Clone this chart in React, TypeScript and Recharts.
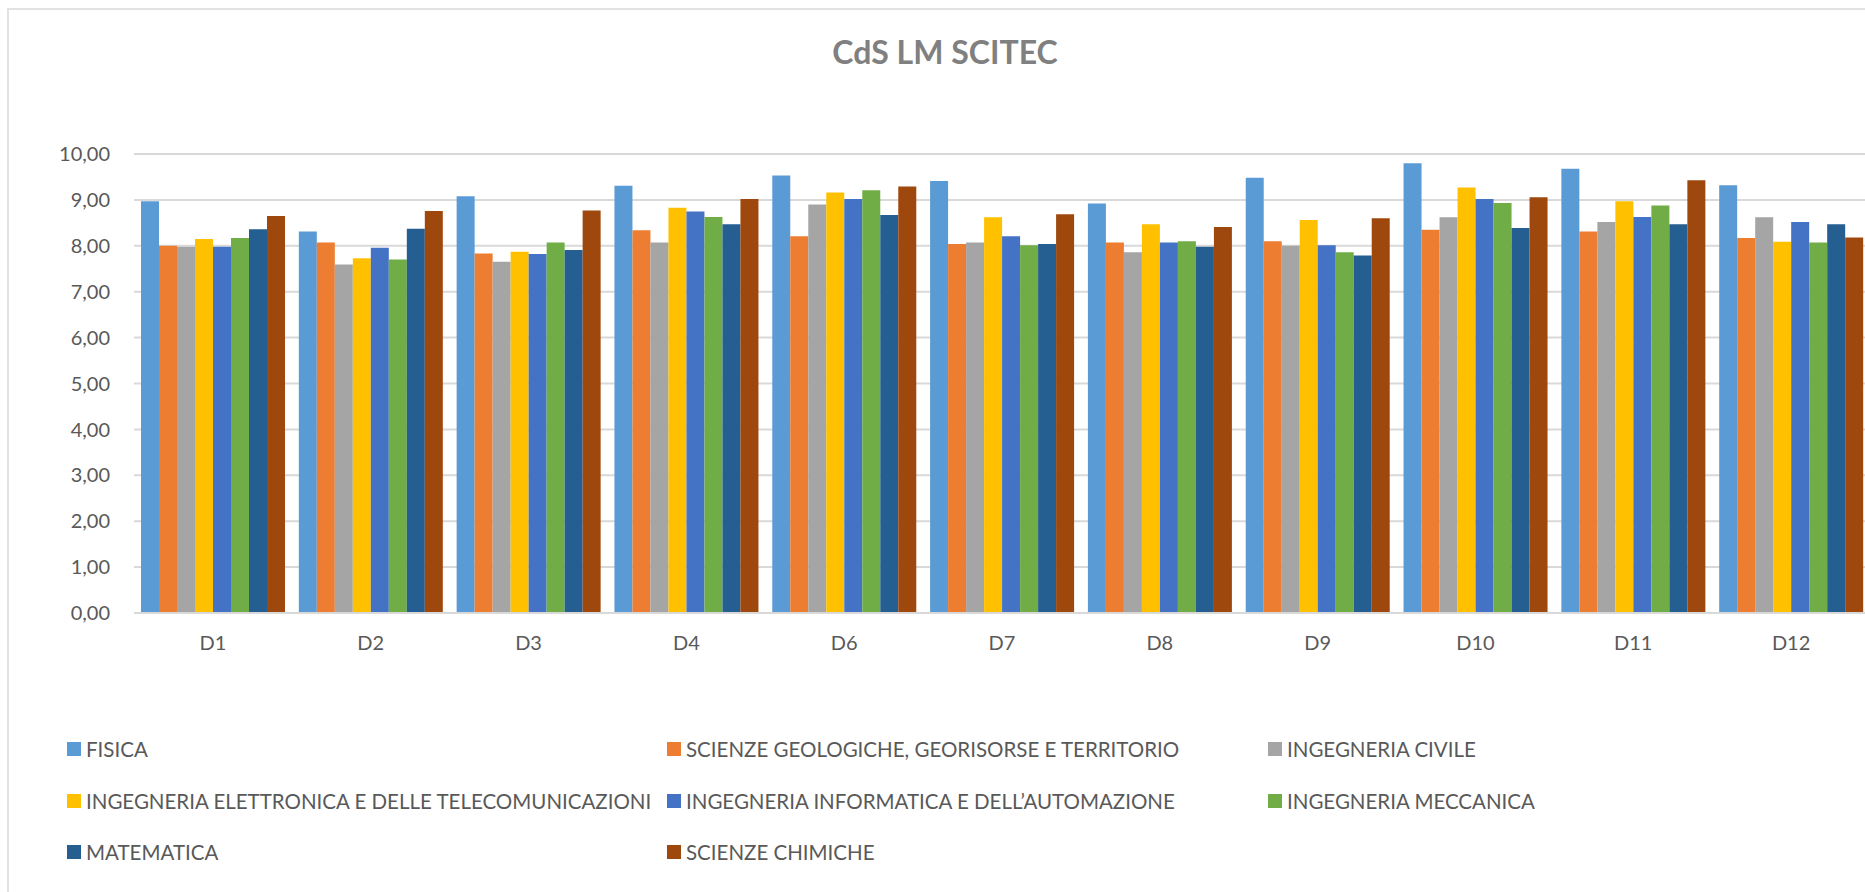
import React from 'react';
import { BarChart, Bar, XAxis, YAxis, CartesianGrid } from 'recharts';

// categorie sull'asse X (D5 non presente)
const categories = ['D1', 'D2', 'D3', 'D4', 'D6', 'D7', 'D8', 'D9', 'D10', 'D11', 'D12'];

const fisica = [8.97, 8.31, 9.08, 9.31, 9.53, 9.41, 8.92, 9.48, 9.8, 9.68, 9.32];
const geologiche = [8.0, 8.07, 7.83, 8.34, 8.21, 8.04, 8.07, 8.1, 8.35, 8.31, 8.17];
const civile = [7.98, 7.59, 7.65, 8.07, 8.9, 8.07, 7.86, 8.0, 8.62, 8.52, 8.62];
const elettronica = [8.15, 7.73, 7.87, 8.83, 9.16, 8.62, 8.47, 8.56, 9.27, 8.97, 8.09];
const informatica = [7.98, 7.96, 7.82, 8.75, 9.02, 8.21, 8.07, 8.01, 9.02, 8.63, 8.52];
const meccanica = [8.17, 7.7, 8.07, 8.63, 9.21, 8.01, 8.1, 7.86, 8.93, 8.88, 8.07];
const matematica = [8.36, 8.37, 7.91, 8.47, 8.67, 8.04, 7.98, 7.79, 8.39, 8.47, 8.47];
const chimiche = [8.65, 8.76, 8.77, 9.02, 9.29, 8.69, 8.41, 8.6, 9.06, 9.43, 8.18];

const yTicks = [0, 1, 2, 3, 4, 5, 6, 7, 8, 9, 10];

const series = [
    { key: 'fisica', name: 'FISICA', color: '#5B9BD5', values: fisica },
    { key: 'geologiche', name: 'SCIENZE GEOLOGICHE, GEORISORSE E TERRITORIO', color: '#ED7D31', values: geologiche },
    { key: 'civile', name: 'INGEGNERIA CIVILE', color: '#A5A5A5', values: civile },
    { key: 'elettronica', name: 'INGEGNERIA ELETTRONICA E DELLE TELECOMUNICAZIONI', color: '#FFC000', values: elettronica },
    { key: 'informatica', name: 'INGEGNERIA INFORMATICA E DELL\u2019AUTOMAZIONE', color: '#4472C4', values: informatica },
    { key: 'meccanica', name: 'INGEGNERIA MECCANICA', color: '#70AD47', values: meccanica },
    { key: 'matematica', name: 'MATEMATICA', color: '#255E91', values: matematica },
    { key: 'chimiche', name: 'SCIENZE CHIMICHE', color: '#9E480E', values: chimiche },
];

const data = categories.map((cat, i) => {
    const row: Record<string, string | number> = { cat };
    series.forEach(s => { row[s.key] = s.values[i]; });
    return row;
});

const fmt = (v: number) => v.toFixed(2).replace('.', ',');

const FONT = 'Lato, "Open Sans", sans-serif';
const legendCols = [67, 667, 1268];
const legendRows = [749, 801, 852];

export default function App() {
    return (
        <div style={styles.page}>
            <div style={styles.frame} />
            <div style={styles.title}>CdS LM SCITEC</div>
            <div style={{ position: 'absolute', left: 0, top: 0 }}>
                <BarChart
                    width={1900}
                    height={673}
                    data={data}
                    margin={{ top: 154, right: 30, bottom: 0, left: 0 }}
                    barCategoryGap={7}
                    barGap={0}
                >
                    <CartesianGrid vertical={false} stroke="#d9d9d9" strokeWidth={2} />
                    <XAxis
                        dataKey="cat"
                        height={60}
                        axisLine={{ stroke: '#d9d9d9', strokeWidth: 2 }}
                        tickLine={false}
                        tickSize={0}
                        tickMargin={23}
                        tick={{ fill: '#595959', fontSize: 20, fontFamily: FONT }}
                        interval={0}
                    />
                    <YAxis
                        width={134}
                        domain={[0, 10]}
                        ticks={yTicks}
                        tickFormatter={fmt}
                        axisLine={false}
                        tickLine={false}
                        tickSize={0}
                        tickMargin={24}
                        tick={{ fill: '#595959', fontSize: 20, fontFamily: FONT }}
                    />
                    {series.map(s => (
                        <Bar key={s.key} dataKey={s.key} name={s.name} fill={s.color} isAnimationActive={false} />
                    ))}
                </BarChart>
            </div>
            {series.map((s, i) => (
                <div
                    key={s.key}
                    style={{
                        ...styles.legendItem,
                        left: legendCols[i % 3],
                        top: legendRows[Math.floor(i / 3)] - 15,
                    }}
                >
                    <span style={{ ...styles.swatch, background: s.color }} />
                    <span>{s.name}</span>
                </div>
            ))}
        </div>
    );
}

const styles = {
    page: {
        position: 'fixed' as const, left: 0, top: 0, width: 1865, height: 892,
        overflow: 'hidden', background: '#fff',
    },
    frame: {
        position: 'absolute' as const, left: 7, top: 8, width: 2000, height: 1000,
        border: '2px solid #e2e2e2',
    },
    title: {
        position: 'absolute' as const, left: 645, width: 600, top: 33, textAlign: 'center' as const,
        fontFamily: FONT, fontWeight: 700, fontSize: 32, lineHeight: '38px', color: '#808080',
    },
    legendItem: {
        position: 'absolute' as const, height: 30, display: 'flex', alignItems: 'center',
        fontFamily: FONT, fontSize: 20.5, color: '#595959', whiteSpace: 'nowrap' as const,
    },
    swatch: { width: 14, height: 14, marginRight: 5, display: 'inline-block' },
};
